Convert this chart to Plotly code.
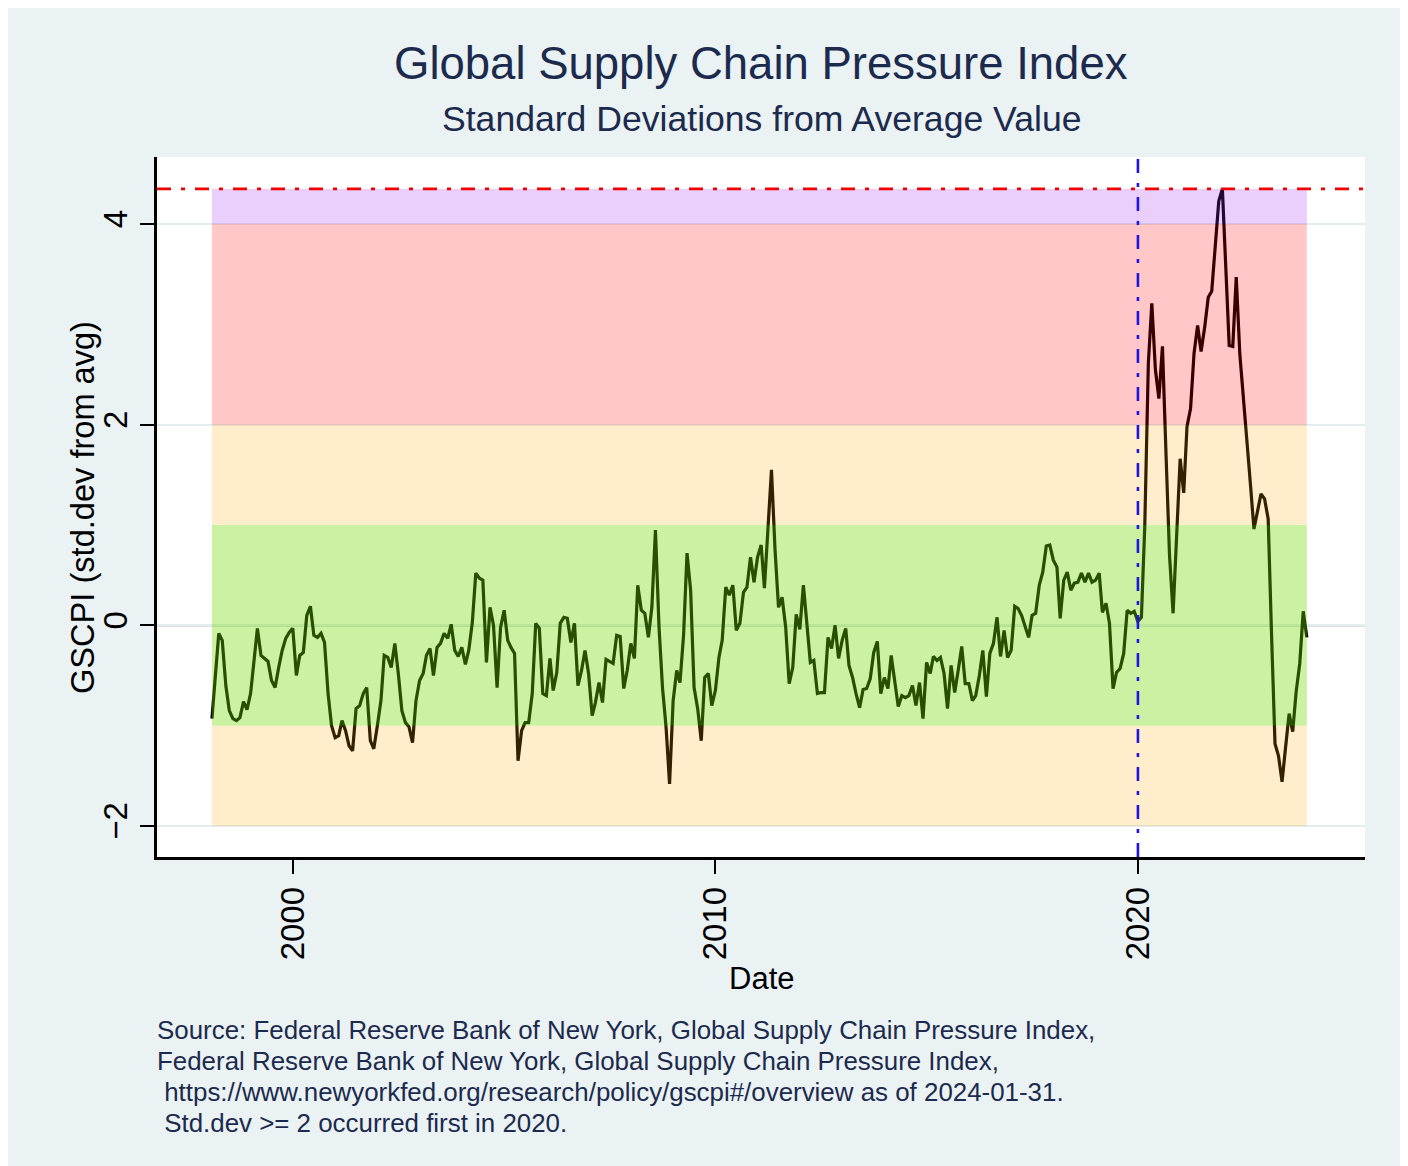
import pandas as pd
import plotly.graph_objects as go

# ---------------- data ----------------
start_month = "1998-01-31"   # monthly observations, end-of-month dates
gscpi = [
    # 1998
    -0.93, -0.50, -0.08, -0.15, -0.60, -0.85, -0.93, -0.95, -0.92, -0.76, -0.84, -0.68,
    # 1999
    -0.35, -0.03, -0.30, -0.33, -0.36, -0.55, -0.62, -0.42, -0.25, -0.13, -0.07, -0.03,
    # 2000
    -0.50, -0.30, -0.27, 0.10, 0.19, -0.10, -0.12, -0.08, -0.17, -0.68, -1.00, -1.12,
    # 2001
    -1.10, -0.95, -1.05, -1.20, -1.25, -0.83, -0.80, -0.68, -0.62, -1.15, -1.23, -1.00,
    # 2002
    -0.75, -0.30, -0.32, -0.42, -0.18, -0.48, -0.85, -0.97, -1.01, -1.17, -0.75, -0.55,
    # 2003
    -0.48, -0.30, -0.23, -0.50, -0.22, -0.18, -0.08, -0.13, 0.01, -0.25, -0.31, -0.22,
    # 2004
    -0.39, -0.25, 0.03, 0.52, 0.47, 0.45, -0.37, 0.18, 0.00, -0.62, -0.02, 0.15,
    # 2005
    -0.15, -0.22, -0.28, -1.35, -1.05, -0.97, -0.97, -0.68, 0.02, -0.03, -0.68, -0.70,
    # 2006
    -0.33, -0.65, -0.47, 0.02, 0.08, 0.07, -0.17, 0.02, -0.60, -0.45, -0.25, -0.48,
    # 2007
    -0.90, -0.77, -0.57, -0.77, -0.34, -0.36, -0.38, -0.10, -0.11, -0.63, -0.45, -0.18,
    # 2008
    -0.33, 0.40, 0.15, 0.12, -0.12, 0.18, 0.95, -0.02, -0.62, -1.02, -1.58, -0.75,
    # 2009
    -0.45, -0.57, -0.10, 0.72, 0.35, -0.62, -0.83, -1.15, -0.52, -0.48, -0.80, -0.65,
    # 2010
    -0.32, -0.15, 0.38, 0.30, 0.40, -0.05, 0.02, 0.33, 0.38, 0.68, 0.43, 0.68,
    # 2011
    0.80, 0.37, 0.92, 1.55, 0.75, 0.18, 0.28, -0.02, -0.58, -0.42, 0.11, -0.04,
    # 2012
    0.40, 0.00, -0.37, -0.35, -0.68, -0.67, -0.67, -0.12, -0.23, 0.00, -0.33, -0.15,
    # 2013
    -0.03, -0.40, -0.52, -0.68, -0.82, -0.64, -0.63, -0.53, -0.27, -0.16, -0.68, -0.52,
    # 2014
    -0.63, -0.30, -0.58, -0.81, -0.70, -0.72, -0.70, -0.60, -0.80, -0.57, -0.93, -0.37,
    # 2015
    -0.48, -0.31, -0.35, -0.32, -0.48, -0.83, -0.40, -0.67, -0.45, -0.21, -0.58, -0.58,
    # 2016
    -0.75, -0.70, -0.50, -0.25, -0.71, -0.28, -0.18, 0.08, -0.31, -0.05, -0.32, -0.25,
    # 2017
    0.19, 0.17, 0.10, 0.00, -0.12, 0.10, 0.12, 0.40, 0.53, 0.79, 0.80, 0.65,
    # 2018
    0.58, 0.07, 0.45, 0.53, 0.35, 0.42, 0.43, 0.52, 0.43, 0.52, 0.43, 0.45,
    # 2019
    0.52, 0.13, 0.22, 0.02, -0.63, -0.47, -0.43, -0.28, 0.15, 0.12, 0.14, 0.04,
    # 2020
    0.08, 0.98, 2.61, 3.21, 2.55, 2.26, 2.78, 1.70, 0.70, 0.12, 0.90, 1.66,
    # 2021
    1.32, 1.98, 2.16, 2.71, 2.99, 2.73, 2.97, 3.27, 3.33, 3.75, 4.23, 4.35,
    # 2022
    3.57, 2.79, 2.78, 3.47, 2.70, 2.30, 1.90, 1.40, 0.96, 1.14, 1.31, 1.26,
    # 2023
    1.06, -0.05, -1.18, -1.30, -1.56, -1.22, -0.88, -1.06, -0.66, -0.38, 0.14, -0.12,
]
dates = pd.date_range(start_month, periods=len(gscpi), freq="ME")

band_lower = [-2, -1, 1, 2, 4]
band_upper = [-1, 1, 2, 4, max(gscpi)]
first_year_ge2 = "2020-01-01"

y_ticks = [-2, 0, 2, 4]
x_ticks = ["2000-01-01", "2010-01-01", "2020-01-01"]
x_ticklabels = ["2000", "2010", "2020"]

title_text = "Global Supply Chain Pressure Index"
subtitle_text = "Standard Deviations from Average Value"
note_lines = [
    "Source: Federal Reserve Bank of New York, Global Supply Chain Pressure Index,",
    "Federal Reserve Bank of New York, Global Supply Chain Pressure Index,",
    "\u00a0https://www.newyorkfed.org/research/policy/gscpi#/overview as of 2024-01-31.",
    "\u00a0Std.dev >= 2 occurred first in 2020.",
]

# ---------------- styles ----------------
band_colors = [
    "rgba(255,165,0,0.20)",
    "rgba(110,220,0,0.36)",
    "rgba(255,165,0,0.20)",
    "rgba(255,0,0,0.22)",
    "rgba(160,32,240,0.22)",
]
FONT = "Liberation Sans, Arial, sans-serif"
NAVY = "#1c2a4d"

fig = go.Figure()
fig.add_trace(go.Scatter(
    x=dates, y=gscpi, mode="lines",
    line=dict(color="black", width=3.2),
    hoverinfo="x+y", showlegend=False,
))

shapes = []
# zero reference line (under the bands)
shapes.append(dict(type="line", xref="paper", x0=0, x1=1, yref="y", y0=0, y1=0,
                   line=dict(color="#808080", width=2), layer="below"))
# shaded bands drawn over the series (translucent)
for lo, hi, col in zip(band_lower, band_upper, band_colors):
    shapes.append(dict(type="rect", xref="x", x0=dates[0], x1=dates[-1],
                       yref="y", y0=lo, y1=hi, fillcolor=col,
                       line=dict(width=0), layer="above"))
# maximum line
shapes.append(dict(type="line", xref="paper", x0=0, x1=1, yref="y",
                   y0=max(gscpi), y1=max(gscpi),
                   line=dict(color="rgb(240,0,0)", width=2.6, dash="14px,10px,4px,10px"),
                   layer="above"))
# first year with std.dev >= 2
shapes.append(dict(type="line", xref="x", x0=first_year_ge2, x1=first_year_ge2,
                   yref="paper", y0=0, y1=1,
                   line=dict(color="rgb(30,20,230)", width=2.6, dash="14px,10px,4px,10px"),
                   layer="above"))

annotations = [
    dict(text=title_text, x=0.5, y=1.134, xref="paper", yref="paper",
         xanchor="center", yanchor="middle", showarrow=False,
         font=dict(family=FONT, size=45.5, color=NAVY)),
    dict(text=subtitle_text, x=0.5, y=1.0543, xref="paper", yref="paper",
         xanchor="center", yanchor="middle", showarrow=False,
         font=dict(family=FONT, size=35.6, color=NAVY)),
    dict(text="GSCPI (std.dev from avg)", x=-0.0621, y=0.5, xref="paper", yref="paper",
         xanchor="center", yanchor="middle", textangle=-90, showarrow=False,
         font=dict(family=FONT, size=32.6, color="black")),
    dict(text="Date", x=0.5, y=-0.1729, xref="paper", yref="paper",
         xanchor="center", yanchor="middle", showarrow=False,
         font=dict(family=FONT, size=31, color="black")),
]
for i, line in enumerate(note_lines):
    annotations.append(dict(text=line, x=-0.002, y=-0.2471 - i * 0.0443,
                            xref="paper", yref="paper", xanchor="left", yanchor="middle",
                            showarrow=False, align="left",
                            font=dict(family=FONT, size=25.9, color=NAVY)))

fig.update_layout(
    width=1392, height=1158,
    margin=dict(l=149, r=35, t=149, b=309),
    paper_bgcolor="#eaf2f3", plot_bgcolor="white",
    font=dict(family=FONT, color="black"),
    shapes=shapes, annotations=annotations,
    showlegend=False,
)
fig.update_xaxes(
    type="date", range=["1996-10-13", "2025-05-17"],
    tickvals=x_ticks, ticktext=x_ticklabels, tickangle=-90,
    tickfont=dict(size=33, family=FONT, color="black"),
    ticks="outside", ticklen=14, tickwidth=2, tickcolor="black",
    showline=True, linecolor="black", linewidth=2.5,
    showgrid=False, zeroline=False,
)
fig.update_yaxes(
    range=[-2.309, 4.668],
    tickvals=y_ticks, tickangle=-90,
    tickfont=dict(size=33, family=FONT, color="black"),
    ticks="outside", ticklen=14, tickwidth=2, tickcolor="black",
    showline=True, linecolor="black", linewidth=2.5,
    showgrid=True, gridcolor="#e3ecee", gridwidth=2, zeroline=False,
)

fig.write_html("out.html")
